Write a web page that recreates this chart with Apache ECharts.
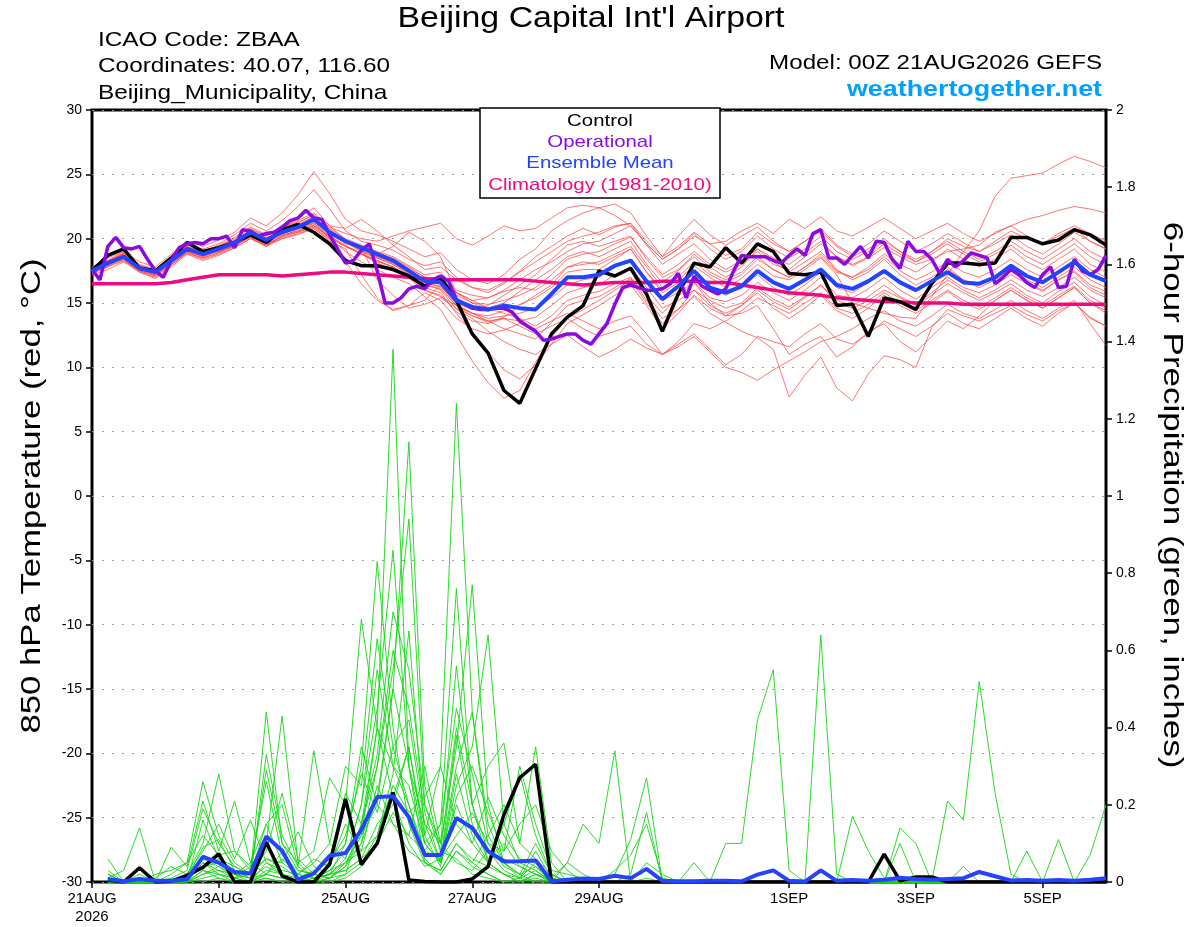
<!DOCTYPE html>
<html>
<head>
<meta charset="utf-8">
<script src="https://cdn.jsdelivr.net/npm/echarts@6/dist/echarts.min.js"></script>
<style>
  html, body { margin: 0; padding: 0; background: #fff; }
  #container { width: 1200px; height: 927px; }
</style>
</head>
<body>
<div id="container"></div>
<script>
// x axis: forecast hours from 00Z 21AUG2026
var tickHours = [0, 48, 96, 144, 192, 264, 312, 360];
var tickLabels = ["21AUG\n2026", "23AUG", "25AUG", "27AUG", "29AUG", "1SEP", "3SEP", "5SEP"];

// 850 hPa temperature, 6-hourly from hour 0
var controlTemp = [17.5,18.7,19.2,17.7,17.5,18.5,19.7,19.0, 19.3,19.7,20.3,19.7,20.7,21.1,20.5,19.6,
  18.3,17.9,17.9,17.6,17.1,16.3,17.0,15.2, 12.6,11.1,8.2,7.2,9.9,12.6,13.9,14.8,
  17.5,17.1,17.7,15.7,12.8,15.7,18.1,17.8, 19.3,18.1,19.6,19.0,17.3,17.2,17.4,14.8,
  14.9,12.4,15.4,15.1,14.5,16.5,18.1,18.1, 18.0,18.1,20.1,20.1,19.6,19.9,20.7,20.3, 19.5];
var meanTemp = [17.5,18.1,18.6,17.7,17.4,18.3,19.2,18.8, 19.2,19.7,20.5,19.9,20.5,20.9,21.5,20.5,
  19.8,19.3,18.8,18.3,17.5,16.7,16.6,15.2, 14.7,14.5,14.8,14.6,14.5,15.7,17.0,17.0,
  17.2,17.9,18.3,16.7,15.3,16.3,17.5,16.2, 15.8,16.3,17.5,16.6,16.1,16.8,17.6,16.4,
  16.1,16.7,17.5,16.6,16.0,16.7,17.4,16.6, 16.5,17.0,17.9,17.1,16.6,17.4,18.2,17.2, 16.7];
var climTemp = [16.5,16.5,16.5,16.5,16.5,16.6,16.8,17.0, 17.2,17.2,17.2,17.2,17.1,17.2,17.3,17.4,
  17.4,17.3,17.2,17.1,17.0,16.9,16.8,16.8, 16.8,16.8,16.8,16.8,16.7,16.6,16.5,16.4,
  16.5,16.6,16.6,16.6,16.7,16.7,16.7,16.6, 16.6,16.4,16.2,16.0,15.8,15.7,15.6,15.4,
  15.3,15.2,15.1,15.1,15.0,15.0,15.0,14.9, 14.9,14.9,14.9,14.9,14.9,14.9,14.9,14.9, 14.9];
// operational run, 3-hourly from hour 0
var operationalTemp = [17.6,16.8,19.4,20.1,19.3,19.2,19.4,18.4, 17.5,17.0,18.3,19.3,19.6,19.7,19.6,20.0,
  20.0,20.2,19.3,20.7,20.6,20.2,20.4,20.5, 20.9,21.4,21.6,22.2,21.6,21.5,20.3,19.2,
  18.1,18.3,19.1,19.6,17.5,15.0,15.0,15.4, 16.1,16.3,16.1,16.8,17.1,16.7,15.3,14.9,
  14.6,14.5,14.5,14.6,14.6,14.3,13.6,13.2, 12.8,12.1,12.2,12.4,12.6,12.6,12.1,11.8,
  12.6,13.4,14.9,16.2,16.4,16.2,16.0,16.0, 16.1,16.5,17.3,15.4,17.1,16.3,16.0,15.7,
  16.1,17.5,18.7,18.6,18.6,18.6,18.3,18.1, 18.7,19.2,18.7,20.4,20.7,18.5,18.5,18.0,
  18.7,19.4,18.5,19.8,19.7,18.4,17.7,19.8, 19.0,19.0,18.4,17.3,18.4,17.8,18.3,18.9,
  18.7,18.5,16.5,17.0,17.6,17.2,16.6,16.2, 17.2,17.8,16.2,16.3,18.4,17.5,17.2,17.6, 18.7];

// 6-hour precipitation (inches), 6-hourly from hour 6
var controlPrecip = [0.005,0,0.037,0,0.002,0.017,0.038, 0.073,0,0,0.103,0.016,0,0,0.046,
  0.215,0.045,0.1,0.232,0.005,0.001,0,0, 0.008,0.04,0.175,0.27,0.305,0,0,0,
  0,0,0,0,0,0,0,0, 0,0,0,0,0,0,0,0, 0,0,0.072,0.003,0.013,0.013,0,0,
  0,0,0,0,0,0,0,0, 0];
var meanPrecip = [0.008,0.002,0.008,0.003,0.003,0.007,0.065, 0.05,0.026,0.022,0.118,0.081,0.006,0.022,0.068,
  0.075,0.135,0.22,0.222,0.168,0.07,0.07,0.166, 0.14,0.08,0.053,0.054,0.056,0.002,0.006,0.009,
  0.008,0.016,0.01,0.034,0.003,0.002,0.002,0.003, 0.003,0.002,0.019,0.03,0.003,0.001,0.03,0.003,
  0.005,0.003,0.006,0.011,0.008,0.006,0.008,0.01, 0.026,0.015,0.004,0.005,0.003,0.005,0.003,0.006, 0.01];

// ensemble members, temperature (6-hourly from hour 0)
var memberTemp = [
  [17.6,18.0,18.4,17.5,17.2,18.0,19.0,18.6, 19.1,19.6,20.2,20.0,20.8,21.6,22.4,21.0, 19.9,19.0,18.5,18.0,17.2,16.0,15.5,14.8, 14.0,13.5,13.9,14.8,15.6,16.4,17.8,18.2, 18.0,18.6,19.2,17.4,16.0,16.8,17.9,17.0, 16.2,16.9,18.0,17.1,16.8,17.6,18.5,17.2, 15.0,14.6,14.2,13.9,13.8,15.5,17.2,19.0, 20.6,23.3,24.7,24.9,25.1,25.8,26.4,26.0, 25.5],
  [17.3,17.9,18.9,18.0,17.6,18.6,19.5,19.2, 19.6,20.3,21.2,20.6,21.4,22.5,23.8,22.3, 20.6,19.8,19.5,19.1,18.4,17.9,18.2,17.0, 16.2,15.8,16.5,17.5,18.6,19.4,20.2,20.8, 20.3,20.9,21.2,19.5,18.0,18.8,19.6,18.4, 17.6,18.3,19.2,18.5,18.0,18.9,19.8,18.6, 17.9,18.5,19.3,18.6,18.0,18.4,19.0,19.2, 19.5,20.5,21.0,21.5,21.8,22.2,22.5,22.3, 22.0],
  [17.4,18.3,19.0,17.8,17.3,18.4,19.4,18.9, 19.0,19.5,20.1,19.4,20.2,20.7,21.2,20.0, 19.0,18.2,17.6,17.0,16.5,15.5,14.5,12.5, 10.5,8.8,7.6,8.2,10.4,12.3,13.8,14.5, 15.2,16.0,16.8,15.0,13.4,14.5,16.0,15.2, 14.6,15.0,16.2,15.3,14.7,15.5,16.4,15.0, 14.6,15.2,16.0,15.4,14.8,15.6,16.5,15.8, 15.2,15.8,16.5,15.6,15.0,15.9,16.6,15.5, 14.8],
  [17.7,18.2,18.5,17.6,17.5,18.2,19.1,18.7, 19.3,19.8,20.6,20.1,20.4,20.8,21.3,20.6, 19.6,19.4,18.9,18.5,17.8,17.0,16.8,15.8, 15.2,14.6,14.2,13.8,13.2,14.0,15.2,15.6, 15.9,16.5,17.0,15.2,13.8,14.5,15.5,14.2, 13.5,12.8,12.3,11.4,7.7,9.4,10.8,8.4, 7.4,9.5,10.9,10.6,10.0,13.1,14.5,14.0, 13.6,14.2,14.8,14.1,13.6,14.4,15.0,13.9, 13.2],
  [17.8,18.5,19.0,18.2,17.8,18.8,19.8,19.4, 19.9,20.5,21.6,21.0,22.0,23.4,25.2,23.5, 21.5,20.6,20.3,19.8,19.2,18.6,18.9,17.6, 16.8,16.5,17.2,18.4,19.2,20.6,21.4,22.0, 22.4,22.7,22.0,20.2,18.6,19.4,20.5,19.6, 18.7,19.2,20.5,19.6,19.0,19.8,20.8,19.5, 18.8,19.6,20.6,19.8,19.0,19.6,20.4,19.7, 19.0,19.6,20.3,19.4,18.8,19.6,20.5,19.8, 19.2],
  [17.2,17.6,18.2,17.4,16.9,17.8,18.8,18.3, 18.7,19.3,20.0,19.5,20.0,20.4,20.8,19.8, 19.2,17.2,15.4,14.4,14.8,15.2,16.4,14.9, 14.2,13.6,13.0,12.6,12.2,13.5,14.8,15.2, 15.5,16.2,16.9,15.6,14.2,15.5,16.6,15.4, 15.1,15.6,16.6,15.8,15.2,16.0,17.0,15.6, 15.4,16.1,17.0,16.0,15.3,16.2,17.0,16.2, 15.8,16.4,17.2,16.5,15.9,16.8,17.5,16.4, 15.9],
  [17.5,18.1,18.7,17.9,17.4,18.4,19.3,18.8, 19.0,19.5,20.4,19.7,20.3,20.6,21.0,20.2, 19.5,18.8,18.2,17.8,17.0,16.2,15.8,14.2, 12.8,11.2,9.8,9.1,10.2,11.8,13.4,14.1, 14.8,15.6,16.4,14.8,13.0,14.2,15.6,14.6, 14.0,14.8,16.0,15.1,14.5,15.4,16.4,15.2, 14.8,15.5,16.4,15.5,14.9,15.8,16.8,16.0, 15.4,16.0,16.8,16.0,15.5,16.2,17.0,16.0, 15.4],
  [17.6,18.2,18.6,17.6,17.3,18.2,19.2,18.9, 19.4,20.0,20.8,20.2,20.9,21.4,22.0,21.0, 20.8,21.5,20.6,19.5,18.6,17.6,17.8,16.8, 16.2,16.0,16.6,17.4,18.2,19.0,19.8,20.2, 20.5,21.0,21.2,19.8,18.6,20.2,21.5,20.3, 19.5,20.2,20.9,19.8,19.0,19.8,20.6,19.4, 18.6,19.2,20.0,19.0,18.2,18.8,19.6,18.8, 18.2,18.8,19.5,18.6,18.0,18.8,19.6,18.6, 18.0],
  [17.4,18.0,18.5,17.6,17.2,18.1,19.0,18.6, 19.0,19.4,20.2,19.6,20.1,20.5,21.0,20.1, 19.4,18.8,18.1,17.6,16.9,16.0,15.6,14.3, 13.6,13.4,13.8,13.2,12.6,13.2,13.8,13.0, 12.4,12.8,13.2,11.8,11.0,11.6,12.4,11.2, 10.0,9.6,9.0,9.8,10.5,11.2,12.0,12.4, 13.0,13.8,14.4,13.6,13.2,14.0,14.9,14.2, 13.8,14.5,15.2,14.4,13.8,14.6,15.2,13.4, 11.7],
  [17.3,17.8,18.6,17.7,17.3,18.3,19.1,18.7, 19.1,19.6,20.3,19.8,20.4,20.8,21.2,20.3, 19.7,19.2,18.6,18.2,17.4,16.6,16.3,15.0, 14.5,14.8,15.6,16.4,17.2,18.4,19.5,19.8, 19.4,19.8,20.2,18.4,17.0,17.6,18.6,17.4, 16.8,17.4,18.6,17.6,17.0,17.8,18.8,17.5, 17.0,17.6,18.6,17.5,16.8,17.4,18.2,17.4, 17.0,17.6,18.4,17.6,17.0,17.8,18.6,17.6, 17.0],
  [17.6,18.1,18.5,17.6,17.5,18.3,19.2,18.7, 19.2,19.7,20.4,19.9,20.6,21.0,21.6,20.4, 19.7,19.0,18.5,18.0,17.3,16.5,16.0,14.5, 13.8,12.8,12.0,11.4,11.0,11.8,12.5,11.6, 10.8,11.4,12.2,11.5,11.0,12.0,13.4,13.0, 13.6,14.4,15.4,14.8,14.2,15.0,15.8,14.6, 14.2,14.9,15.8,15.0,14.4,15.2,16.0,15.2, 14.7,15.4,16.2,15.4,14.8,15.6,16.3,15.2, 14.6],
  [17.8,18.3,18.8,17.9,17.6,18.5,19.4,19.0, 19.5,20.1,20.9,20.3,20.9,21.3,21.8,20.9, 20.4,20.0,19.8,20.2,20.6,20.9,21.2,20.0, 19.5,20.2,21.0,20.6,20.8,21.6,22.4,22.6, 22.4,21.8,21.0,19.6,18.4,19.2,20.4,19.2, 18.4,19.0,20.2,19.2,18.5,19.2,20.2,19.0, 18.4,19.0,19.8,19.0,18.4,19.0,19.8,19.0, 18.4,19.0,19.8,19.0,18.4,19.2,20.0,19.0, 18.4],
  [17.5,17.9,18.3,17.4,17.0,17.9,18.9,18.5, 18.9,19.5,20.1,19.5,20.2,20.6,21.1,20.2, 19.4,18.9,18.3,17.8,17.0,16.3,16.8,15.8, 15.0,14.6,15.0,15.9,16.8,17.6,18.6,19.0, 18.6,19.2,19.8,18.0,16.6,17.5,18.8,17.8, 17.0,17.8,19.2,18.2,17.4,18.2,19.0,17.6, 16.8,17.4,18.4,17.2,16.4,17.0,17.8,16.8, 16.4,17.0,17.6,16.6,16.0,16.8,17.4,16.2, 15.6],
  [17.6,18.0,18.7,17.8,17.4,18.2,19.1,18.8, 19.2,19.7,20.5,20.0,20.6,21.0,21.6,20.7, 19.9,19.3,16.8,15.6,14.6,14.9,15.4,14.6, 14.0,13.6,13.8,13.6,13.9,14.8,15.8,16.2, 16.4,17.2,17.8,16.2,14.6,15.2,16.0,14.8, 14.2,14.8,15.8,14.6,13.8,14.6,15.6,14.4, 13.8,14.6,15.6,14.8,14.2,15.0,15.9,15.0, 14.5,15.2,16.0,15.2,14.6,15.4,16.2,15.0, 14.4],
  [17.4,18.2,18.9,17.9,17.5,18.4,19.3,18.8, 19.3,19.8,20.7,20.2,20.8,21.2,21.9,20.8, 20.0,19.5,19.0,18.6,17.9,17.2,17.4,16.0, 15.6,15.4,15.9,16.2,16.0,16.8,17.8,18.0, 18.2,18.8,19.4,17.8,16.2,17.0,18.2,17.2, 16.6,17.2,18.4,17.6,17.0,17.8,18.6,17.4, 17.0,17.8,18.8,18.0,17.4,18.2,19.2,18.4, 17.8,18.4,19.2,18.2,17.6,18.4,19.2,18.0, 17.4],
  [17.5,18.0,18.4,17.5,17.1,18.0,18.9,18.4, 18.8,19.3,20.0,19.4,20.0,20.3,20.8,19.9, 18.2,16.5,15.2,14.5,14.8,15.8,15.2,13.8, 13.0,12.6,12.9,13.4,13.0,13.6,14.2,13.6, 13.0,13.6,14.0,12.6,11.0,11.8,12.6,11.4, 10.2,11.0,12.4,12.0,11.6,12.6,13.4,12.2, 11.8,12.6,13.6,13.0,12.4,13.2,14.2,13.4, 13.0,13.8,14.6,13.8,13.2,14.2,15.0,13.8, 13.2],
  [17.7,18.3,18.8,17.8,17.5,18.4,19.3,18.9, 19.4,19.9,20.6,20.0,20.7,21.1,21.7,20.6, 19.9,19.4,18.9,18.4,17.7,17.0,16.9,15.6, 15.0,14.9,15.2,15.6,16.2,17.2,18.4,18.8, 19.0,19.6,20.1,18.6,17.2,18.0,19.0,18.0, 17.4,18.0,19.0,18.0,17.6,18.6,19.6,18.6, 18.0,18.6,19.6,18.8,18.2,19.0,20.0,19.4, 19.0,19.8,20.6,20.0,19.6,20.4,21.0,20.4, 19.8],
  [17.3,17.8,18.3,17.5,17.1,18.0,18.9,18.5, 18.9,19.4,20.2,19.6,20.2,20.5,20.9,20.0, 19.4,18.8,18.3,17.8,17.1,16.4,16.1,14.8, 14.2,14.0,14.4,14.9,15.4,16.2,17.4,17.6, 17.6,18.4,19.2,17.4,15.8,16.6,17.4,16.2, 15.6,16.2,17.2,16.2,15.6,16.4,17.4,16.2, 15.8,16.6,17.4,16.6,16.0,16.8,17.6,16.8, 16.2,16.8,17.6,16.8,16.2,17.0,17.8,16.8, 16.2],
  [17.6,18.1,18.6,17.7,17.4,18.3,19.2,18.7, 19.1,19.6,20.4,19.8,20.5,20.9,21.4,20.4, 19.7,19.1,18.6,18.1,17.4,16.6,16.2,14.8, 14.2,13.8,14.0,14.2,14.6,15.4,16.4,16.8, 17.0,17.8,18.4,16.8,15.2,15.8,16.6,15.0, 14.0,14.2,14.8,13.0,11.0,11.8,12.4,10.8, 11.6,12.8,13.4,12.0,11.2,12.4,13.6,13.0, 14.0,15.2,16.0,15.2,14.6,15.4,16.2,15.0, 14.2],
  [17.4,18.0,18.6,17.8,17.3,18.2,19.1,18.7, 19.1,19.6,20.3,19.8,20.4,20.9,21.4,20.5, 19.8,19.3,18.8,19.4,20.5,19.8,18.6,15.8, 15.2,15.4,16.0,16.8,17.6,18.2,19.0,19.6, 19.8,20.4,21.0,19.6,18.4,19.2,20.2,19.6, 19.8,20.6,21.2,20.4,21.5,20.8,21.7,20.6, 20.2,20.9,21.6,20.8,20.0,20.6,21.2,20.4, 19.8,20.4,21.0,20.2,19.6,20.2,20.8,19.8, 19.2]
];

// ensemble members, 6-hour precipitation (6-hourly from hour 6)
var memberPrecip = [
  [0.01,0.03,0.14,0,0,0.01,0.06, 0.04,0.02,0,0.05,0.02,0,0.01,0.03, 0.08,0.12,0.40,1.38,0.30,0.05,0.02,0.08, 0.04,0.02,0,0.01,0.03,0,0.05,0.15, 0.10,0.34,0,0,0,0,0,0, 0,0,0,0,0,0,0,0, 0,0,0,0,0,0,0,0, 0,0,0,0,0,0,0,0, 0],
  [0.03,0,0,0.02,0.03,0.05,0.26, 0.12,0.05,0.02,0.44,0.10,0.03,0.02,0.01, 0.05,0.10,0.22,0.50,1.14,0.25,0.08,0.06, 0.02,0.01,0,0,0.02,0,0,0, 0,0.02,0.11,0.27,0,0,0,0, 0,0,0,0,0,0,0,0, 0,0,0,0,0,0,0,0, 0,0,0,0,0,0,0,0, 0],
  [0.06,0,0.02,0,0,0.02,0.10, 0.28,0.08,0.04,0.10,0.43,0.05,0.01,0.02, 0.03,0.06,0.15,0.20,0.35,0.12,0.30,1.24, 0.44,0.12,0.05,0.02,0.04,0,0,0, 0,0,0,0,0,0,0,0, 0.10,0.10,0.42,0.55,0.03,0,0,0, 0,0,0,0,0,0,0,0, 0,0,0,0,0,0,0,0, 0],
  [0.02,0,0,0,0.09,0.04,0.21, 0.08,0.21,0.05,0.02,0.06,0.02,0,0.05, 0.10,0.30,0.83,0.40,0.15,0.05,0.03,0.10, 0.05,0.02,0,0,0,0,0,0, 0,0,0,0,0,0,0,0, 0,0,0,0,0,0,0.64,0.02, 0,0,0,0,0,0,0,0, 0,0,0,0,0,0,0,0, 0],
  [0.01,0,0,0,0,0,0.05, 0.03,0.02,0.01,0.33,0.12,0.04,0.34,0.10, 0.06,0.20,0.45,0.86,0.30,0.10,0.05,0.25, 0.35,0.64,0.15,0.05,0.03,0,0,0, 0,0,0,0,0,0,0,0, 0,0,0,0,0,0,0,0, 0.17,0.08,0.01,0,0,0,0,0, 0,0,0,0,0,0,0,0, 0],
  [0,0,0,0,0.01,0.03,0.19, 0.10,0.04,0.02,0.08,0.23,0.06,0.02,0.01, 0.04,0.15,0.30,0.55,0.94,0.20,0.10,0.35, 0.77,0.20,0.05,0.01,0,0,0,0, 0,0,0,0,0,0,0,0, 0,0,0,0,0,0,0,0, 0,0,0,0.14,0.10,0,0,0, 0,0,0,0,0,0,0,0, 0],
  [0,0,0,0,0,0,0.16, 0.06,0.03,0.02,0.29,0.10,0.05,0.08,0.27, 0.20,0.68,0.40,0.30,0.25,0.10,0.15,0.76, 0.20,0.05,0.02,0,0.01,0,0,0, 0,0,0,0,0,0,0,0, 0,0,0,0,0,0,0,0, 0,0,0,0,0,0,0.21,0.16, 0.52,0.23,0.02,0,0,0,0,0, 0],
  [0,0,0,0,0,0.02,0.08, 0.15,0.06,0.16,0.05,0.03,0.02,0.05,0.10, 0.30,0.25,0.63,0.35,0.20,0.08,0.06,0.30, 0.44,0.15,0.05,0.02,0,0,0,0, 0,0,0,0,0,0,0,0, 0,0,0,0,0,0,0,0, 0,0,0,0,0,0,0,0, 0,0,0,0.08,0,0.11,0,0.07, 0.20],
  [0.01,0,0,0.01,0.04,0.02,0.04, 0.05,0.02,0.05,0.15,0.20,0.04,0.01,0.03, 0.05,0.12,0.20,0.50,0.30,0.15,0.10,0.56, 0.20,0.30,0.36,0.10,0.35,0.05,0,0, 0,0,0.02,0.18,0,0,0,0, 0,0,0,0,0,0,0,0, 0,0,0,0,0,0,0,0, 0,0,0,0,0,0,0,0, 0],
  [0,0,0,0,0.02,0.05,0.12, 0.07,0.08,0.03,0.06,0.05,0.13,0.04,0.02, 0.10,0.35,0.20,0.15,0.12,0.30,0.10,0.05, 0.03,0.08,0.06,0.04,0.02,0.01,0.05,0.02, 0,0.03,0.07,0.15,0.01,0,0,0, 0,0,0,0,0,0,0,0, 0,0,0,0,0,0,0,0, 0,0,0,0,0,0,0,0, 0],
  [0.02,0,0,0,0,0.01,0.09, 0.11,0.03,0.01,0.02,0.08,0.02,0.06,0.04, 0.15,0.08,0.12,0.25,0.18,0.22,0.30,0.15, 0.10,0.05,0.15,0.28,0.12,0.02,0,0, 0,0,0,0.01,0,0,0.05,0, 0,0,0,0,0,0,0,0, 0,0,0,0.10,0,0,0,0.04, 0,0,0,0,0,0,0,0, 0],
  [0,0,0,0,0,0,0.03, 0.02,0.01,0.04,0.26,0.07,0.03,0.02,0.06, 0.23,0.15,0.40,0.22,0.10,0.04,0.06,0.12, 0.18,0.10,0.08,0.30,0.15,0.03,0.02,0.01, 0,0,0,0,0,0,0,0, 0,0,0,0,0,0,0,0, 0,0,0,0,0,0,0,0, 0,0,0,0,0,0,0,0, 0],
  [0.01,0,0,0,0,0,0.07, 0.05,0.02,0.01,0.04,0.02,0.01,0.03,0.05, 0.12,0.28,0.18,0.35,0.42,0.15,0.05,0.20, 0.10,0.22,0.12,0.06,0.04,0.01,0,0, 0,0,0,0.05,0.02,0,0,0, 0,0,0,0,0,0,0,0, 0,0,0,0,0,0,0,0, 0,0,0,0,0,0,0,0, 0],
  [0.02,0,0,0,0,0.01,0.04, 0.06,0.04,0.02,0.15,0.05,0.02,0.01,0.02, 0.06,0.20,0.55,0.30,0.20,0.06,0.02,0.08, 0.05,0.12,0.20,0.10,0.06,0.02,0,0, 0,0,0,0,0,0,0,0, 0,0,0,0,0,0,0,0, 0,0,0,0,0,0,0,0, 0,0,0,0,0,0,0,0, 0],
  [0,0,0,0,0,0,0.02, 0.03,0.01,0,0.02,0.01,0,0,0.01, 0.04,0.10,0.30,0.60,0.45,0.18,0.05,0.38, 0.15,0.06,0.10,0.04,0.02,0,0,0, 0,0,0,0,0,0,0,0, 0,0,0,0,0,0,0,0, 0,0,0,0,0,0,0,0, 0,0,0,0,0,0,0,0, 0],
  [0,0,0,0,0,0,0.01, 0.02,0,0,0.02,0.01,0,0,0, 0.02,0.05,0.12,0.28,0.65,0.12,0.04,0.22, 0.30,0.18,0.08,0.15,0.20,0.08,0.03,0, 0,0,0,0,0,0,0,0, 0,0,0,0,0,0,0,0, 0,0,0,0,0,0,0,0, 0,0,0,0,0,0,0,0, 0],
  [0,0,0,0,0,0,0, 0.01,0,0,0.01,0,0,0,0, 0.01,0.04,0.10,0.18,0.12,0.08,0.15,0.45, 0.28,0.10,0.04,0.02,0.10,0.02,0,0, 0,0,0,0,0,0,0,0, 0,0,0,0,0,0,0,0, 0,0,0,0,0,0,0,0, 0,0,0,0,0,0,0,0, 0],
  [0,0,0,0,0,0,0.05, 0.02,0.01,0,0.03,0.02,0,0,0.02, 0.05,0.08,0.25,0.15,0.08,0.05,0.03,0.10, 0.06,0.04,0.02,0.01,0.08,0.01,0,0, 0,0,0,0,0,0,0,0, 0,0,0,0,0,0,0,0, 0,0,0,0,0,0,0,0, 0,0,0,0,0,0,0,0, 0],
  [0,0,0,0,0,0,0.03, 0.01,0,0,0.01,0,0,0.01,0.02, 0.03,0.06,0.10,0.22,0.35,0.10,0.05,0.28, 0.12,0.05,0.02,0,0.02,0,0,0, 0,0,0,0,0,0,0,0, 0,0,0,0,0,0,0,0, 0,0,0,0,0,0,0,0, 0,0,0,0,0,0,0,0, 0],
  [0,0,0,0,0,0,0.02, 0.04,0.01,0.02,0.06,0.04,0.01,0,0.01, 0.02,0.15,0.33,0.70,0.55,0.20,0.08,0.40, 0.20,0.08,0.03,0.01,0.05,0,0,0, 0,0,0,0,0,0,0,0, 0,0,0,0,0,0,0,0, 0,0,0,0,0,0,0,0, 0,0,0,0,0,0,0,0, 0]
];

var dom = document.getElementById("container");
var myChart = echarts.init(dom, null, { renderer: "canvas" });

var FONT = '"Liberation Sans", Arial, sans-serif';

function toPoints(values, step, start) {
  return values.map(function (v, i) {
    return [start + i * step, v];
  });
}

function lineSeries(data, axis, color, width) {
  return {
    type: "line",
    yAxisIndex: axis,
    data: data,
    symbol: "none",
    silent: true,
    lineStyle: { color: color, width: width },
  };
}

// text helper: the original lettering is wider than Liberation Sans, so stretch a bit
function label(text, x, y, size, color, align, opts) {
  opts = opts || {};
  return {
    type: "text",
    x: x,
    y: y,
    z: 101,
    rotation: opts.rotation || 0,
    scaleX: opts.scaleX || 1.2,
    style: {
      text: text,
      font: (opts.bold ? "bold " : "") + size + "px " + FONT,
      fill: color,
      align: align,
      verticalAlign: "middle",
    },
  };
}

var series = [];
memberPrecip.forEach(function (m) {
  series.push(lineSeries(toPoints(m, 6, 6), 1, "rgba(20,215,20,0.9)", 1));
});
memberTemp.forEach(function (m) {
  series.push(lineSeries(toPoints(m, 6, 0), 0, "rgba(255,70,70,0.75)", 1));
});
series.push(lineSeries(toPoints(climTemp, 6, 0), 0, "#ee0a82", 3.5));
series.push(lineSeries(toPoints(controlPrecip, 6, 6), 1, "#000", 3.5));
series.push(lineSeries(toPoints(controlTemp, 6, 0), 0, "#000", 3.5));
series.push(lineSeries(toPoints(operationalTemp, 3, 0), 0, "#8a0ae0", 3.5));
series.push(lineSeries(toPoints(meanPrecip, 6, 6), 1, "#2443ff", 4));
series.push(lineSeries(toPoints(meanTemp, 6, 0), 0, "#2443ff", 4));

var option = {
  animation: false,
  textStyle: { fontFamily: FONT },
  grid: {
    show: true,
    left: 92,
    right: 94,
    top: 110,
    bottom: 45,
    borderColor: "#000",
    borderWidth: 3,
    containLabel: false,
  },
  xAxis: {
    type: "value",
    min: 0,
    max: 384,
    axisLine: { show: false, onZero: false },
    splitLine: { show: false },
    axisTick: {
      show: true,
      customValues: tickHours,
      length: 6,
      lineStyle: { color: "#000", width: 1.5 },
    },
    axisLabel: {
      customValues: tickHours,
      color: "#000",
      fontSize: 15,
      lineHeight: 18,
      margin: 8,
      fontFamily: FONT,
      formatter: function (v) {
        var k = tickHours.indexOf(v);
        return k >= 0 ? tickLabels[k] : "";
      },
    },
  },
  yAxis: [
    {
      type: "value",
      min: -30,
      max: 30,
      interval: 5,
      axisLine: { show: false },
      axisTick: { show: true, length: 6, lineStyle: { color: "#000", width: 1.5 } },
      axisLabel: { color: "#000", fontSize: 14, margin: 10, fontFamily: FONT },
      splitLine: {
        show: true,
        lineStyle: { color: "#a0a0a0", width: 1.2, type: [2, 8] },
      },
    },
    {
      type: "value",
      min: 0,
      max: 2,
      interval: 0.2,
      position: "right",
      axisLine: { show: false },
      axisTick: { show: true, length: 6, lineStyle: { color: "#000", width: 1.5 } },
      axisLabel: {
        color: "#000",
        fontSize: 14,
        margin: 10,
        fontFamily: FONT,
        formatter: function (v) {
          return String(Math.round(v * 10) / 10);
        },
      },
      splitLine: { show: false },
    },
  ],
  graphic: [
    label("Beijing Capital Int'l Airport", 591, 19, 30, "#000", "center", { scaleX: 1.13 }),
    label("ICAO Code: ZBAA", 98, 40, 21, "#000", "left", { scaleX: 1.16 }),
    label("Coordinates: 40.07, 116.60", 98, 66, 21, "#000", "left", { scaleX: 1.16 }),
    label("Beijing_Municipality, China", 98, 93, 21, "#000", "left", { scaleX: 1.16 }),
    label("Model: 00Z 21AUG2026 GEFS", 1102, 63, 21, "#000", "right", { scaleX: 1.15 }),
    label("weathertogether.net", 1102, 90, 22, "#00a0ff", "right", { bold: true, scaleX: 1.22 }),
    {
      type: "rect",
      z: 100,
      shape: { x: 480, y: 108, width: 240, height: 90 },
      style: { fill: "#fff", stroke: "#000", lineWidth: 1.5 },
    },
    label("Control", 600, 121, 17, "#000", "center", { scaleX: 1.2 }),
    label("Operational", 600, 142, 17, "#8a0ae0", "center", { scaleX: 1.2 }),
    label("Ensemble Mean", 600, 163, 17, "#2443ff", "center", { scaleX: 1.2 }),
    label("Climatology (1981-2010)", 600, 185, 17, "#ee0a82", "center", { scaleX: 1.2 }),
    label("850 hPa Temperature (red, °C)", 32, 496, 28, "#000", "center", { rotation: Math.PI / 2, scaleX: 1.24 }),
    label("6-hour Precipitation (green, inches)", 1172, 495, 28, "#000", "center", { rotation: -Math.PI / 2, scaleX: 1.25 }),
  ],
  series: series,
};

if (option && typeof option === "object") {
  myChart.setOption(option);
}

window.addEventListener("resize", myChart.resize);
</script>
</body>
</html>
